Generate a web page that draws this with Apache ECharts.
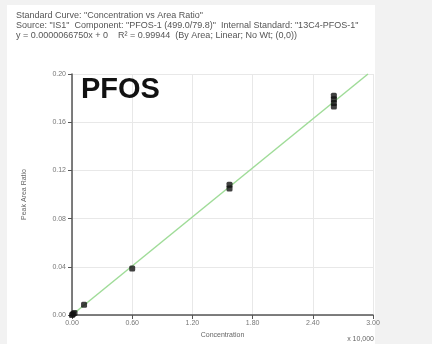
<!DOCTYPE html>
<html><head><meta charset="utf-8">
<script src="https://cdn.jsdelivr.net/npm/echarts@6/dist/echarts.min.js"></script>
<style>html,body{margin:0;padding:0;background:#f2f2f2;}#c{width:432px;height:344px;}</style>
</head><body><div id="c"></div>
<script>
const headerLines = [
  'Standard Curve: "Concentration vs Area Ratio"',
  'Source: "IS1"  Component: "PFOS-1 (499.0/79.8)"  Internal Standard: "13C4-PFOS-1"',
  'y = 0.0000066750x + 0    R\u00B2 = 0.99944  (By Area; Linear; No Wt; (0,0))'
];
const compound = 'PFOS';
const xTicks = [0, 0.6, 1.2, 1.8, 2.4, 3.0];
const yTicks = [0, 0.04, 0.08, 0.12, 0.16, 0.20];
const calX = [0, 0.01, 0.025, 0.12, 0.6, 1.57, 1.57, 2.61, 2.61, 2.61, 2.61];
const calY = [0, 0.0008, 0.0016, 0.0085, 0.0385, 0.105, 0.108, 0.173, 0.176, 0.179, 0.182];
const fitX = [0, 2.95];
const fitY = [0, 0.2];
const xTitle = 'Concentration';
const yTitle = 'Peak Area Ratio';
const xMult = 'x 10,000';

const chart = echarts.init(document.getElementById('c'));
chart.setOption({
  animation: false,
  backgroundColor: 'transparent',
  graphic: [
    {type:'rect', shape:{x:7,y:5,width:368,height:339}, style:{fill:'#ffffff'}, z:-10},
    ...headerLines.map((t,i)=>({type:'text', left:16, top:11+i*10, style:{text:t, font:'9px "Liberation Sans", Arial', fill:'#555'}})),
    {type:'text', left:81, top:75, style:{text:compound, font:'bold 29px "Liberation Sans", Arial', fill:'#111'}, z:10},
    {type:'text', right:58, top:336, style:{text:xMult, font:'7px "Liberation Sans", Arial', fill:'#666'}}
  ],
  grid: {left:72, right:59, top:74, bottom:26},
  xAxis: {
    type:'value', min:0, max:3.0, interval:0.6,
    name:xTitle, nameLocation:'middle', nameGap:17,
    nameTextStyle:{fontSize:7, color:'#666', fontFamily:'Liberation Sans'},
    axisLine:{lineStyle:{color:'#555', width:1.5}},
    axisTick:{show:true, length:4, lineStyle:{color:'#555'}},
    axisLabel:{fontSize:7, color:'#777', margin:5, formatter:v=>v.toFixed(2), fontFamily:'Liberation Sans'},
    splitLine:{show:true, lineStyle:{color:'#e8e8e8', width:1}}
  },
  yAxis: {
    type:'value', min:0, max:0.2, interval:0.04,
    name:yTitle, nameLocation:'middle', nameGap:44, nameRotate:90,
    nameTextStyle:{fontSize:7, color:'#666', fontFamily:'Liberation Sans'},
    axisLine:{show:true, lineStyle:{color:'#555', width:1.5}},
    axisTick:{show:true, length:4, lineStyle:{color:'#555'}},
    axisLabel:{fontSize:7, color:'#777', margin:6, formatter:v=>v.toFixed(2), fontFamily:'Liberation Sans'},
    splitLine:{show:true, lineStyle:{color:'#e8e8e8', width:1}}
  },
  series: [
    {type:'line', data:fitX.map((x,i)=>[x,fitY[i]]), symbol:'none', clip:false,
     lineStyle:{color:'#9fdc98', width:1.5}, z:2},
    {type:'scatter', data:calX.map((x,i)=>[x,calY[i]]), symbol:'roundRect', symbolSize:6,
     itemStyle:{color:'#111'}, z:5}
  ]
});
</script></body></html>
